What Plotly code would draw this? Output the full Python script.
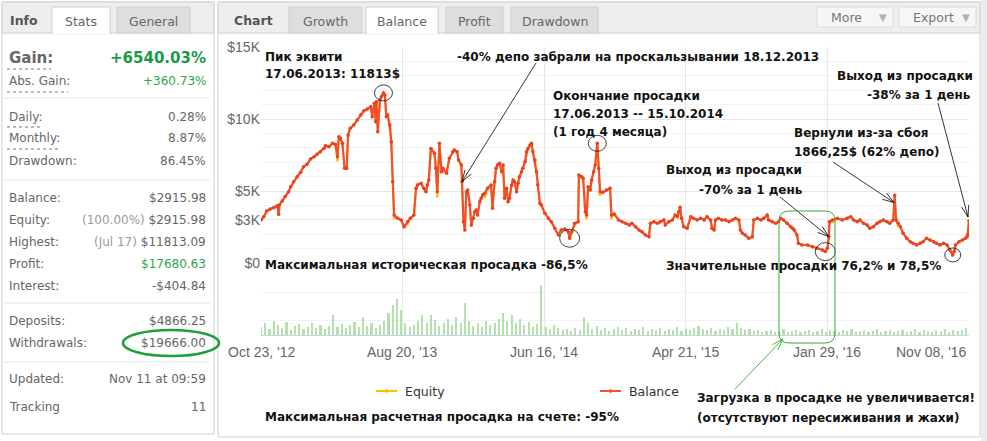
import math
import plotly.graph_objects as go

W, H = 987, 441

# ---------------- data ----------------
tick_labels = ["Oct 23, '12", "Aug 20, '13", "Jun 16, '14", "Apr 21, '15", "Jan 29, '16", "Nov 08, '16"]
tick_idx = [0, 200, 400, 600, 800, 1000]

balance_idx = [0, 4, 8, 13, 18, 23, 25, 26, 30, 34, 39, 42, 46, 51, 56, 60, 65, 70, 75, 79, 84, 89, 91, 96, 101,
               105, 108, 110, 112, 115, 118, 121, 123, 126, 131, 136, 141, 145, 150, 155, 157, 160, 162, 163, 165,
               168, 170, 173, 175, 177, 179, 182, 184, 186, 188, 193, 198, 202, 207, 211, 216, 219, 221, 226, 230,
               233, 235, 237, 240, 245, 247, 249, 252, 255, 257, 262, 266, 271, 273, 277, 279, 283, 284, 286, 288,
               290, 292, 295, 297, 300, 302, 304, 306, 309, 311, 313, 316, 320, 325, 327, 330, 332, 334, 337, 340,
               342, 344, 347, 349, 351, 354, 356, 358, 361, 363, 365, 368, 370, 373, 375, 377, 380, 382, 384, 387,
               389, 391, 394, 396, 401, 406, 410, 415, 420, 424, 429, 434, 436, 439, 443, 448, 449, 453, 455, 458,
               460, 462, 465, 467, 470, 472, 475, 477, 479, 483, 488, 493, 495, 499, 505, 510, 515, 520, 524, 529,
               534, 538, 543, 548, 550, 555, 560, 564, 569, 571, 576, 581, 585, 588, 590, 592, 594, 597, 602, 607,
               611, 616, 621, 626, 630, 635, 637, 640, 642, 646, 651, 656, 661, 666, 670, 675, 677, 680, 684, 689,
               694, 696, 701, 706, 710, 715, 717, 722, 727, 731, 734, 738, 743, 748, 751, 753, 757, 759, 764, 772,
               779, 786, 793, 797, 800, 802, 803, 807, 814, 821, 828, 833, 837, 842, 846, 851, 856, 860, 865, 870,
               874, 879, 884, 888, 893, 895, 897, 900, 903, 907, 912, 917, 921, 926, 931, 935, 940, 945, 950, 954,
               959, 964, 969, 973, 977, 979, 981, 986, 991, 995, 997, 998, 1000]
balance_val = [2990, 3220, 3610, 3750, 3840, 3980, 3380, 4030, 4310, 4610, 4950, 5300, 5650, 5990, 6300, 6690, 6850,
               7220, 7380, 7550, 7730, 7960, 8150, 8080, 8310, 8240, 7380, 8770, 8660, 8310, 6580, 6580, 8890, 9350,
               9580, 9930, 10280, 10560, 10690, 10850, 10160, 11090, 9810, 11200, 9120, 11320, 11550, 11813, 11670,
               10160, 10280, 9580, 8420, 5650, 3330, 3100, 2990, 2520, 2870, 3100, 3330, 5190, 5420, 5530, 5190,
               4950, 5420, 5760, 7960, 7620, 6580, 4950, 8310, 6340, 6580, 6230, 7270, 7730, 7850, 7730, 7150, 6810,
               5650, 2870, 2290, 4950, 5070, 4030, 2640, 3100, 3560, 3680, 3330, 4260, 4490, 4720, 4840, 5190, 5420,
               3800, 5650, 6580, 6810, 6920, 6340, 6810, 4490, 5190, 4260, 4490, 5420, 5760, 5650, 4950, 5530, 5990,
               6340, 6580, 7030, 7730, 7960, 8190, 8310, 7730, 7150, 6340, 5420, 4150, 4030, 3450, 3100, 2870, 2410,
               1940, 2290, 2360, 2170, 1720, 2170, 2760, 2870, 6110, 5990, 5880, 3560, 3330, 5300, 5070, 5760, 6340,
               6810, 8310, 6580, 4950, 4910, 5070, 5190, 3330, 3400, 2990, 2870, 2760, 2640, 2760, 2520, 2290, 2170,
               1940, 1830, 2760, 2870, 2760, 2870, 2990, 2640, 2870, 2990, 3330, 3220, 3560, 3870, 3100, 2520, 2410,
               3220, 3100, 2990, 3100, 2990, 3220, 2990, 2410, 2290, 2990, 3100, 2990, 2990, 2870, 2990, 3100, 2990,
               2290, 2060, 1940, 1720, 1830, 2990, 3100, 2990, 3100, 3330, 2990, 2870, 2760, 2870, 3100, 2990, 2760,
               2520, 2410, 2290, 1940, 1370, 1250, 1250, 1130, 1020, 900, 790, 1020, 1830, 2870, 2990, 3100, 2990,
               3100, 3220, 2990, 2870, 2990, 2760, 2640, 2410, 2520, 2760, 2870, 2990, 2870, 2760, 2990, 4700, 2990,
               2760, 2520, 2060, 1720, 1480, 1370, 1250, 1370, 1480, 1720, 1600, 1480, 1370, 1250, 1370, 1250, 900,
               560, 790, 1250, 1480, 1600, 1720, 1830, 1940, 2916]

# equity equals balance except at these read-off points (floating losses)
equity_override = {108: 7150, 182: 9350, 188: 3150, 207: 2700, 249: 4650, 257: 6400, 316: 4600, 375: 7500,
                   443: 2600, 460: 3150, 479: 4750, 495: 3150, 590: 3400, 700: 2900, 807: 2850, 900: 2600}
equity_val = [equity_override.get(i, v) for i, v in zip(balance_idx, balance_val)]

volumes = [8, 12, 6, 14, 10, 7, 13, 5, 9, 11, 6, 8, 12, 7, 10, 6, 9, 20, 8, 11,
           7, 10, 13, 8, 18, 9, 12, 7, 10, 14, 22, 30, 36, 25, 12, 8, 10, 14, 20, 12,
           20, 15, 9, 12, 16, 10, 18, 12, 32, 14, 9, 12, 8, 14, 10, 12, 16, 22, 14, 20,
           12, 16, 10, 13, 8, 11, 50, 8, 6, 10, 7, 5, 6, 4, 7, 5, 18, 12, 6, 9,
           5, 7, 4, 6, 8, 5, 7, 4, 6, 5, 8, 4, 6, 5, 7, 4, 6, 5, 8, 4,
           6, 5, 7, 9, 6, 5, 7, 4, 6, 5, 8, 6, 12, 7, 5, 6, 4, 5, 3, 4,
           5, 3, 4, 6, 3, 4, 5, 3, 4, 5, 3, 4, 6, 3, 5, 4, 3, 5, 4, 6,
           3, 4, 5, 3, 4, 6, 3, 4, 5, 3, 4, 5, 3, 4, 6, 3, 5, 4, 3, 5,
           4, 6, 3, 5, 4, 5, 7]
volume_idx = [6 * k for k in range(len(volumes))]

stat_labels = ["Gain:", "Abs. Gain:", "Daily:", "Monthly:", "Drawdown:", "Balance:", "Equity:", "Highest:",
               "Profit:", "Interest:", "Deposits:", "Withdrawals:", "Updated:", "Tracking"]
stat_values = ["+6540.03%", "+360.73%", "0.28%", "8.87%", "86.45%", "$2915.98",
               "<span style='color:#9a9a9a'>(100.00%)</span> $2915.98",
               "<span style='color:#9a9a9a'>(Jul 17)</span> $11813.09",
               "$17680.63", "-$404.84", "$4866.25", "$19666.00", "Nov 11 at 09:59", "11"]

EQ_COLOR, BAL_COLOR = "#FFBF00", "#F2502C"

# ---------------- geometry helpers ----------------
PX0, PX1 = 261, 969          # plot x extent (px)
PY0, PY15 = 263, 47          # y of $0 and $15K (px)
VB = 335                     # volume baseline


def px(x):
    return x / W


def py(y):
    return 1 - y / H


def dpx(i):
    return PX0 + i * (PX1 - PX0) / 1000.0


def dpy(v):
    return PY0 - v * (PY0 - PY15) / 15000.0


shapes = []
annotations = []


def rect(x0, y0, x1, y1, fill=None, line="#d3d3d3", lw=1, layer="below"):
    shapes.append(dict(type="rect", xref="paper", yref="paper", x0=px(x0), x1=px(x1), y0=py(y1), y1=py(y0),
                       fillcolor=fill if fill else "rgba(0,0,0,0)",
                       line=dict(color=line, width=lw) if line else dict(width=0), layer=layer))


def hline(x0, x1, y, color="#e4e4e4", lw=1, dash="solid", layer="below"):
    shapes.append(dict(type="line", xref="paper", yref="paper", x0=px(x0), x1=px(x1), y0=py(y), y1=py(y),
                       line=dict(color=color, width=lw, dash=dash), layer=layer))


def seg(x0, y0, x1, y1, color="#000", lw=0.8):
    shapes.append(dict(type="line", xref="paper", yref="paper", x0=px(x0), x1=px(x1), y0=py(y0), y1=py(y1),
                       line=dict(color=color, width=lw), layer="above"))


def arrow(tail, head, color="#000", lw=0.8, L=12, ang=18):
    (x0, y0), (x1, y1) = tail, head
    seg(x0, y0, x1, y1, color, lw)
    a = math.atan2(y0 - y1, x0 - x1)
    for s in (-1, 1):
        b = a + s * math.radians(ang)
        seg(x1, y1, x1 + L * math.cos(b), y1 + L * math.sin(b), color, lw)


def txt(s, x, y, anchor="left", size=12, color="#111", bold=True, family="DejaVu Sans"):
    annotations.append(dict(text=("<b>%s</b>" % s) if bold else s, x=px(x), y=py(y), xref="paper", yref="paper",
                            xanchor=anchor, yanchor="middle", showarrow=False,
                            font=dict(family=family, size=size, color=color)))


# ---------------- panels ----------------
rect(981, 0, 987, 441, fill="#ececec", line=None)
# left info panel
rect(2, 2, 214, 434, fill="#ffffff", line="#d0d0d0")
rect(2, 2, 214, 33, fill="#eeeeee", line="#d0d0d0")
rect(52, 7, 110, 34, fill="#ffffff", line="#cfcfcf")
hline(53, 109, 33.5, color="#ffffff", lw=2)
rect(117, 7, 190, 33, fill="#dedede", line="#cfcfcf")
txt("Info", 8, 20, size=12.5, color="#555")
txt("Stats", 81, 21, anchor="center", size=12.5, color="#666", bold=False)
txt("General", 153, 21, anchor="center", size=12.5, color="#666", bold=False)

# chart panel
rect(218, 2, 980, 437, fill="#ffffff", line="#d0d0d0")
rect(218, 2, 980, 33, fill="#eeeeee", line="#d0d0d0")
tabs = [("Growth", 289, 362, False), ("Balance", 366, 438, True), ("Profit", 446, 503, False),
        ("Drawdown", 511, 598, False)]
for name, a, b, active in tabs:
    if active:
        rect(a, 7, b, 34, fill="#ffffff", line="#cfcfcf")
        hline(a + 1, b - 1, 33.5, color="#ffffff", lw=2)
    else:
        rect(a, 7, b, 33, fill="#dedede", line="#cfcfcf")
    txt(name, (a + b) / 2, 21, anchor="center", size=12.5, color="#666", bold=False)
txt("Chart", 232, 20, size=12.5, color="#555")
for name, a, b in [("More", 817, 893), ("Export", 899, 976)]:
    rect(a, 7, b, 27, fill="#f6f6f6", line="#dadada")
    txt(name, a + 12, 17, size=12.5, color="#777", bold=False)
    txt("▼", b - 10, 17, anchor="center", size=10, color="#b0b0b0", bold=False)

# ---------------- stats rows ----------------
row_y = [58, 81, 117, 138, 161, 198, 220, 242, 264, 286, 321, 343, 379, 407]
for lab, val, y in zip(stat_labels, stat_values, row_y):
    if lab == "Gain:":
        txt(lab, 7, y, size=15, color="#666")
        txt(val, 208, y, anchor="right", size=15, color="#1a9a48")
    else:
        col = "#2aa84a" if lab in ("Abs. Gain:", "Profit:") else "#666"
        txt(lab, 7, y, size=12, color="#666", bold=False)
        txt(val, 208, y, anchor="right", size=12, color=col, bold=False)
for (a, b, y) in [(7, 51, 69), (7, 68, 92), (7, 41, 127), (7, 61, 149)]:
    hline(a, b, y, color="#777", lw=1, dash="dot", layer="above")
for y in [98, 180, 303, 362]:
    hline(5, 210, y)
shapes.append(dict(type="circle", xref="paper", yref="paper", x0=px(123), x1=px(219), y0=py(356), y1=py(330),
                   line=dict(color="#1e9e3e", width=2.5), layer="above"))

# ---------------- chart annotations ----------------
txt("Пик эквити", 263, 57)
txt("17.06.2013: 11813$", 263, 74)
txt("-40% депо забрали на проскальзывании 18.12.2013", 455, 57)
txt("Окончание просадки", 551, 96)
txt("17.06.2013 -- 15.10.2014", 551, 114)
txt("(1 год 4 месяца)", 551, 132)
txt("Выход из просадки", 975, 76, anchor="right")
txt("-38% за 1 день", 973, 95, anchor="right")
txt("Вернули из-за сбоя", 792, 133)
txt("1866,25$ (62% депо)", 792, 152)
txt("Выход из просадки", 804, 170, anchor="right")
txt("-70% за 1 день", 805, 190, anchor="right")
txt("Максимальная историческая просадка -86,5%", 263, 265)
txt("Значительные просадки 76,2% и 78,5%", 943, 266, anchor="right")
txt("Максимальная расчетная просадка на счете: -95%", 263, 417)
txt("Загрузка в просадке не увеличивается!", 695, 398)
txt("(отсутствуют пересиживания и жахи)", 695, 418)

# x tick labels
for i, lab in zip(tick_idx, tick_labels):
    annotations.append(dict(text=lab, x=i, xref="x", y=py(352), yref="paper", showarrow=False,
                            xanchor="right" if i == tick_idx[-1] else "center", yanchor="middle",
                            font=dict(family="Liberation Sans", size=14, color="#666")))

# manual legend
for name, col, x0 in [("Equity", EQ_COLOR, 376), ("Balance", BAL_COLOR, 600)]:
    hline(x0, x0 + 21, 391, color=col, lw=2, layer="above")
    seg(x0 + 10.5, 389, x0 + 10.5, 393, color=col, lw=1.5)
    txt(name, x0 + 27, 391, size=12.5, color="#333", bold=False)

# circles around notable points (anchored in data, sized in pixels)
for (i, v, r) in [(173, 11813, 9), (475, 8310, 9), (436, 1720, 10), (797, 790, 10), (977, 560, 8)]:
    shapes.append(dict(type="circle", xref="x", yref="y", xsizemode="pixel", ysizemode="pixel",
                       xanchor=i, yanchor=v, x0=-r, x1=r, y0=-r + 1, y1=r - 1,
                       line=dict(color="#111", width=0.8), layer="above"))

arrow((536, 63), (dpx(284), dpy(5650)))
arrow((938, 103), (dpx(1000) - 1, dpy(2916) - 4))
arrow((833, 162), (dpx(894), dpy(4200)))
arrow((780, 197), (dpx(802), dpy(1830)))
arrow((735, 389), (783, 339), color="#2fb52f", lw=0.9)


def rrect_path(x0, y0, x1, y1, r):
    rx, ry = r / W, r / H
    X0, X1, Y0, Y1 = px(x0), px(x1), py(y0), py(y1)
    return (f"M{X0 + rx},{Y0} L{X1 - rx},{Y0} Q{X1},{Y0} {X1},{Y0 - ry} L{X1},{Y1 + ry} "
            f"Q{X1},{Y1} {X1 - rx},{Y1} L{X0 + rx},{Y1} Q{X0},{Y1} {X0},{Y1 + ry} L{X0},{Y0 - ry} "
            f"Q{X0},{Y0} {X0 + rx},{Y0} Z")


shapes.append(dict(type="path", xref="paper", yref="paper", path=rrect_path(779, 211, 835, 343, 10),
                   line=dict(color="#2fb52f", width=1), layer="above"))

# ---------------- traces ----------------
fig = go.Figure()
fig.add_trace(go.Bar(x=volume_idx, y=volumes, yaxis="y2", width=3, showlegend=False,
                     marker=dict(color="rgba(120,200,110,0.55)", line=dict(width=0)), hoverinfo="skip"))
fig.add_trace(go.Scatter(x=balance_idx, y=equity_val, name="Equity", mode="lines+markers", showlegend=False,
                         line=dict(color=EQ_COLOR, width=2), marker=dict(size=3, color=EQ_COLOR)))
fig.add_trace(go.Scatter(x=balance_idx, y=balance_val, name="Balance", mode="lines+markers", showlegend=False,
                         line=dict(color=BAL_COLOR, width=2.2), marker=dict(size=3.5, color="#E8402A")))

fig.update_layout(
    width=W, height=H, autosize=False,
    margin=dict(l=0, r=0, t=0, b=0, autoexpand=False),
    paper_bgcolor="#ffffff", plot_bgcolor="rgba(0,0,0,0)",
    shapes=shapes, annotations=annotations,
    bargap=0, showlegend=False,
    xaxis=dict(domain=[px(PX0), px(PX1)], range=[0, 1000], tickvals=tick_idx, showticklabels=False,
               showgrid=True, gridcolor="#e6e6e6", zeroline=False, anchor="y2", showline=True,
               linecolor="#c9d3e0", ticks="", fixedrange=True),
    yaxis=dict(domain=[py(PY0), py(PY15)], range=[0, 15000], tickvals=[0, 3000, 5000, 10000, 15000],
               ticktext=["$0", "$3K", "$5K", "$10K", "$15K"], tickfont=dict(family="Liberation Sans", size=14,
                                                                          color="#666"),
               showgrid=True, gridcolor="#e6e6e6", zeroline=False, anchor="x", ticks="",
               minor=dict(tickmode="linear", tick0=0, dtick=1000, showgrid=True, gridcolor="#f3f3f3"),
               fixedrange=True),
    yaxis2=dict(domain=[py(VB), py(PY0)], range=[0, 72], tickvals=[15, 43], showticklabels=False,
                showgrid=True, gridcolor="#f2f2f2", zeroline=False, anchor="x", fixedrange=True),
    hovermode=False,
)

fig.write_html("out.html", config={"displayModeBar": False},
               post_script="document.body.style.margin='0';document.body.style.overflow='hidden';")
